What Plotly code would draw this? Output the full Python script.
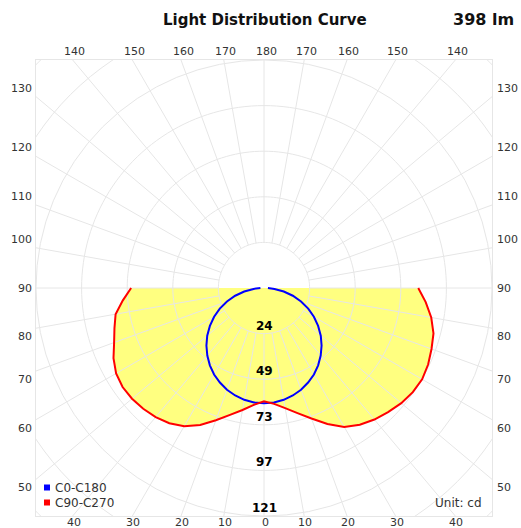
import numpy as np
import plotly.graph_objects as go

# ---------------- data ----------------
angles = [0, 5, 10, 15, 20, 25, 30, 35, 40, 45, 50, 55, 60, 65, 70, 75, 80, 85, 90]

# C0-C180 (blue) intensity in cd, left / right half
c0_left = [61.4, 61.2, 60.5, 59.3, 57.7, 55.6, 53.2, 50.3, 47.0, 43.4, 39.5, 35.2, 30.7, 26.0, 21.0, 15.9, 10.7, 5.6, 1.9]
c0_right = [61.4, 61.2, 60.5, 59.3, 57.7, 55.6, 53.2, 50.3, 47.0, 43.4, 39.5, 35.2, 30.7, 26.0, 21.0, 15.9, 10.7, 5.6, 2.1]

# C90-C270 (red) intensity in cd, left / right half
c90_left = [60.4, 62.5, 66.0, 70.0, 75.0, 80.5, 85.0, 88.0, 89.8, 91.0, 91.8, 92.0, 91.0, 88.5, 85.0, 82.5, 80.3, 75.5, 70.8]
c90_right = [60.4, 62.0, 65.0, 69.0, 74.0, 80.0, 85.5, 89.0, 91.5, 93.5, 95.5, 96.8, 97.3, 96.5, 95.0, 93.5, 90.5, 86.5, 82.2]

ring_values = [24.3, 48.6, 72.9, 97.2, 121.5, 145.8, 170.1]
ring_labels = ["24", "49", "73", "97", "121"]
spoke_angles = list(range(0, 360, 10))
side_angles = [50, 60, 70, 80, 90, 100, 110, 120, 130]
top_angles = [140, 150, 160, 170, 180]
bottom_angles = [0, 10, 20, 30, 40]

R = 121.5
GRID = "#e6e6e6"
TXT = "#333333"
FONT = "DejaVu Sans"


def full_theta(a):
    return [-x for x in reversed(a)] + a[1:]


def full_r(left, right):
    return list(reversed(left)) + right[1:]


fig = go.Figure()

# hidden cartesian axes carrying the outer grid (square frame)
fig.add_trace(go.Scatter(x=[None], y=[None], showlegend=False, hoverinfo="skip"))

# yellow fill of C90-C270
theta_red = full_theta(angles)
r_red = full_r(c90_left, c90_right)
fig.add_trace(go.Scatterpolar(theta=theta_red, r=r_red, mode="lines", fill="toself",
                              fillcolor="#ffff80", line=dict(width=0, color="rgba(0,0,0,0)"),
                              showlegend=False, hoverinfo="skip"))

# inner grid drawn above the fill (polar)
sp_t, sp_r = [], []
for a in spoke_angles:
    sp_t += [a, a, None]
    sp_r += [ring_values[0], R, None]
fig.add_trace(go.Scatterpolar(theta=sp_t, r=sp_r, mode="lines", line=dict(color=GRID, width=1),
                              showlegend=False, hoverinfo="skip", connectgaps=False))
circ_theta = list(range(0, 361, 2))
ci_t, ci_r = [], []
for v in ring_values[:4]:
    ci_t += circ_theta + [None]
    ci_r += [v] * len(circ_theta) + [None]
fig.add_trace(go.Scatterpolar(theta=ci_t, r=ci_r, mode="lines", line=dict(color=GRID, width=1),
                              showlegend=False, hoverinfo="skip", connectgaps=False))

# curves
fig.add_trace(go.Scatterpolar(theta=full_theta(angles), r=full_r(c0_left, c0_right), mode="lines",
                              line=dict(color="#0000ff", width=2), name="C0-C180", showlegend=False))
fig.add_trace(go.Scatterpolar(theta=theta_red, r=r_red, mode="lines",
                              line=dict(color="#ff0000", width=2), name="C90-C270", showlegend=False))

# outer grid (cartesian shapes, clipped to square)
shapes = []
for a in spoke_angles:
    t = np.deg2rad(a)
    shapes.append(dict(type="line", xref="x", yref="y", layer="below",
                       x0=R * np.sin(t), y0=-R * np.cos(t), x1=1.6 * R * np.sin(t), y1=-1.6 * R * np.cos(t),
                       line=dict(color=GRID, width=1)))
for v in ring_values[4:]:
    shapes.append(dict(type="circle", xref="x", yref="y", layer="below",
                       x0=-v, y0=-v, x1=v, y1=v, line=dict(color=GRID, width=1)))

# legend squares
def px_to_paper(px, py):
    return (px - 36) / 456.0, (516 - py) / 456.0

for cy, col in [(487.5, "#0000ff"), (502.5, "#ff0000")]:
    x0, y0 = px_to_paper(44, cy + 3)
    x1, y1 = px_to_paper(50, cy - 3)
    shapes.append(dict(type="rect", xref="paper", yref="paper", x0=x0, y0=y0, x1=x1, y1=y1,
                       fillcolor=col, line=dict(width=0), layer="above"))

ann = []
# radial value labels
for v, lab in zip(ring_values, ring_labels):
    ann.append(dict(x=0, y=-v, xref="x", yref="y", text="<b>" + lab + "</b>", showarrow=False,
                    yanchor="middle", yshift=8, font=dict(family=FONT, size=12, color="#000000")))


def to_paper(x, y):
    return (x + R) / (2 * R), (y + R) / (2 * R)

# side labels
for a in side_angles:
    t = np.deg2rad(a)
    y = -R * np.cos(t) / np.sin(t)
    ya = "middle" if a == 90 else ("top" if a < 90 else "bottom")
    for side in (-1, 1):
        px, py = to_paper(side * R, y)
        ann.append(dict(x=px, y=py, xref="paper", yref="paper", text=str(a), showarrow=False,
                        xanchor="right" if side < 0 else "left", xshift=-2 if side < 0 else 3,
                        yanchor=ya, font=dict(family=FONT, size=11, color=TXT)))
# top labels
for a in top_angles:
    phi = np.deg2rad(180 - a)
    sides = (1,) if a == 180 else (-1, 1)
    for side in sides:
        px, py = to_paper(side * R * np.tan(phi), R)
        ann.append(dict(x=px, y=py, xref="paper", yref="paper", text=str(a), showarrow=False,
                        xanchor="center", yanchor="bottom", xshift=2, font=dict(family=FONT, size=11, color=TXT)))
# bottom labels
for a in bottom_angles:
    t = np.deg2rad(a)
    sides = (1,) if a == 0 else (-1, 1)
    for side in sides:
        px, py = to_paper(side * R * np.tan(t), -R)
        ann.append(dict(x=px, y=py, xref="paper", yref="paper", text=str(a), showarrow=False,
                        xanchor="center", yanchor="top", xshift=1, yshift=1, borderpad=0,
                        font=dict(family=FONT, size=11, color=TXT)))

# legend texts
for cy, name in [(487.5, "C0-C180"), (502.5, "C90-C270")]:
    x, y = px_to_paper(53, cy)
    ann.append(dict(x=x, y=y, xref="paper", yref="paper", text=name, showarrow=False,
                    xanchor="left", yanchor="middle", font=dict(family=FONT, size=12, color=TXT)))
x, y = px_to_paper(484, 503)
ann.append(dict(x=x, y=y, xref="paper", yref="paper", text="Unit: cd", showarrow=False,
                xanchor="right", yanchor="middle", font=dict(family=FONT, size=12, color=TXT)))

# titles
ann.append(dict(x=(264.5 - 36) / 456.0, y=(516 - 20.5) / 456.0, xref="paper", yref="paper",
                text="<b>Light Distribution Curve</b>", showarrow=False, xanchor="center", yanchor="middle",
                font=dict(family=FONT, size=15, color="#111111")))
ann.append(dict(x=(516 - 36) / 456.0, y=(516 - 20) / 456.0, xref="paper", yref="paper",
                text="<b>398 lm</b>", showarrow=False, xanchor="right", yanchor="middle",
                font=dict(family=FONT, size=16, color="#111111")))

axis_common = dict(range=[-R, R], showgrid=False, zeroline=False, showticklabels=False,
                   showline=True, mirror=True, linecolor=GRID, linewidth=1, ticks="", fixedrange=True)

fig.update_layout(
    width=521, height=528,
    margin=dict(l=36, r=29, t=60, b=12),
    paper_bgcolor="white", plot_bgcolor="white",
    xaxis=dict(domain=[0, 1], **axis_common),
    yaxis=dict(domain=[0, 1], **axis_common),
    polar=dict(domain=dict(x=[0, 1], y=[0, 1]), bgcolor="rgba(0,0,0,0)",
               radialaxis=dict(range=[0, R], visible=False),
               angularaxis=dict(rotation=-90, direction="counterclockwise", visible=False)),
    shapes=shapes, annotations=ann, showlegend=False,
)

fig.write_html("out.html", config={"displayModeBar": False},
               post_script="document.body.style.margin='0px';document.body.style.overflow='hidden';")
